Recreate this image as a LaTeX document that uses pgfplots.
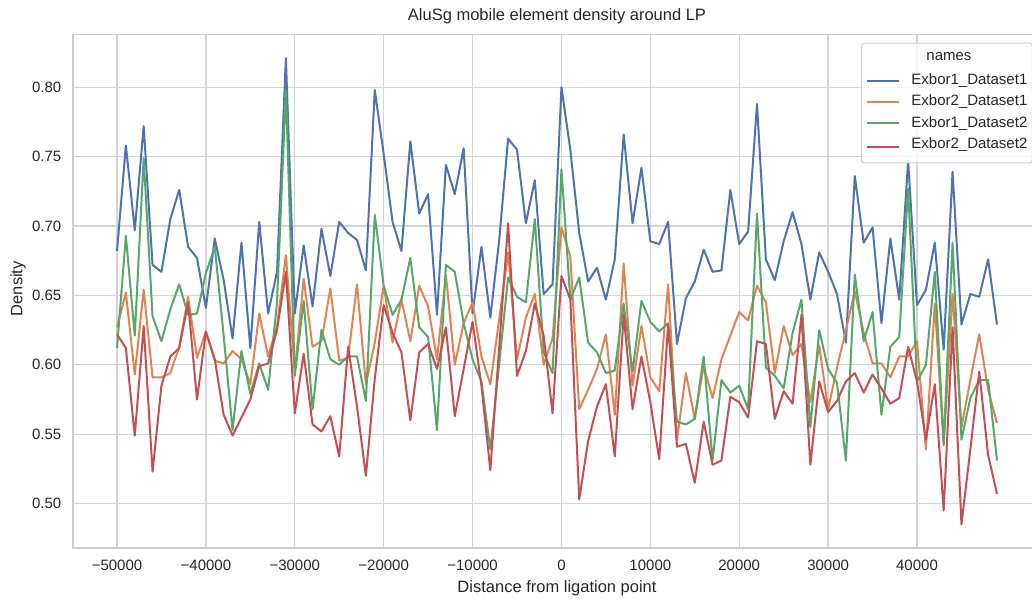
\documentclass[border=0pt]{standalone}
\usepackage{pgfplots}
\usepackage{pgfplotstable}
\pgfplotsset{compat=1.18}
\usepackage{fontspec}
\setmainfont{Liberation Sans}

\definecolor{sbblue}{HTML}{4C72B0}
\definecolor{sborange}{HTML}{DD8452}
\definecolor{sbgreen}{HTML}{55A868}
\definecolor{sbred}{HTML}{C44E52}
\definecolor{gridgray}{HTML}{CCCCCC}
\definecolor{txt}{HTML}{262626}

% density per 1 kb window; columns: position, Exbor1_D1, Exbor2_D1, Exbor1_D2, Exbor2_D2
\pgfplotstableread{
x b o g r
-50000 0.682 0.627 0.612 0.622
-49000 0.758 0.652 0.693 0.612
-48000 0.697 0.593 0.621 0.549
-47000 0.772 0.654 0.749 0.628
-46000 0.672 0.591 0.635 0.523
-45000 0.667 0.591 0.617 0.585
-44000 0.705 0.594 0.640 0.606
-43000 0.726 0.613 0.658 0.612
-42000 0.685 0.649 0.636 0.645
-41000 0.677 0.605 0.637 0.575
-40000 0.641 0.624 0.666 0.624
-39000 0.691 0.603 0.685 0.604
-38000 0.661 0.601 0.621 0.564
-37000 0.619 0.610 0.553 0.549
-36000 0.688 0.604 0.610 0.562
-35000 0.612 0.586 0.579 0.575
-34000 0.703 0.637 0.601 0.599
-33000 0.637 0.606 0.582 0.601
-32000 0.667 0.628 0.645 0.625
-31000 0.821 0.679 0.798 0.667
-30000 0.637 0.595 0.592 0.565
-29000 0.686 0.662 0.646 0.608
-28000 0.642 0.613 0.568 0.557
-27000 0.698 0.617 0.625 0.552
-26000 0.664 0.655 0.604 0.563
-25000 0.703 0.603 0.600 0.534
-24000 0.695 0.605 0.606 0.613
-23000 0.690 0.658 0.606 0.570
-22000 0.668 0.586 0.574 0.520
-21000 0.798 0.616 0.708 0.590
-20000 0.752 0.657 0.657 0.643
-19000 0.703 0.616 0.636 0.623
-18000 0.682 0.647 0.647 0.609
-17000 0.761 0.617 0.677 0.560
-16000 0.709 0.657 0.627 0.609
-15000 0.723 0.642 0.620 0.615
-14000 0.636 0.604 0.553 0.597
-13000 0.744 0.665 0.672 0.627
-12000 0.723 0.600 0.667 0.563
-11000 0.756 0.630 0.630 0.597
-10000 0.637 0.645 0.604 0.631
-9000 0.685 0.606 0.588 0.585
-8000 0.634 0.586 0.539 0.524
-7000 0.690 0.633 0.601 0.613
-6000 0.763 0.681 0.663 0.702
-5000 0.755 0.604 0.649 0.592
-4000 0.702 0.634 0.645 0.610
-3000 0.733 0.651 0.705 0.644
-2000 0.651 0.600 0.609 0.621
-1000 0.658 0.619 0.594 0.565
0 0.800 0.699 0.741 0.664
1000 0.755 0.678 0.647 0.647
2000 0.695 0.568 0.663 0.503
3000 0.660 0.582 0.616 0.545
4000 0.670 0.597 0.609 0.570
5000 0.647 0.622 0.594 0.586
6000 0.676 0.564 0.596 0.534
7000 0.766 0.673 0.644 0.636
8000 0.702 0.585 0.595 0.568
9000 0.742 0.628 0.646 0.606
10000 0.689 0.591 0.631 0.573
11000 0.687 0.581 0.624 0.532
12000 0.703 0.658 0.630 0.629
13000 0.615 0.546 0.559 0.541
14000 0.648 0.594 0.557 0.543
15000 0.660 0.561 0.561 0.515
16000 0.683 0.599 0.606 0.559
17000 0.667 0.576 0.531 0.528
18000 0.668 0.604 0.589 0.531
19000 0.726 0.621 0.580 0.577
20000 0.687 0.638 0.585 0.573
21000 0.696 0.632 0.568 0.562
22000 0.788 0.657 0.709 0.617
23000 0.676 0.645 0.598 0.615
24000 0.661 0.594 0.592 0.561
25000 0.689 0.628 0.583 0.581
26000 0.710 0.607 0.623 0.572
27000 0.687 0.615 0.647 0.636
28000 0.647 0.573 0.555 0.528
29000 0.681 0.614 0.625 0.588
30000 0.667 0.568 0.597 0.566
31000 0.651 0.598 0.587 0.574
32000 0.616 0.625 0.531 0.588
33000 0.736 0.653 0.665 0.594
34000 0.688 0.623 0.617 0.580
35000 0.699 0.601 0.638 0.593
36000 0.630 0.601 0.564 0.583
37000 0.691 0.591 0.613 0.572
38000 0.647 0.606 0.620 0.576
39000 0.747 0.606 0.727 0.613
40000 0.643 0.617 0.588 0.588
41000 0.654 0.539 0.600 0.546
42000 0.688 0.644 0.667 0.586
43000 0.611 0.542 0.543 0.495
44000 0.739 0.651 0.688 0.627
45000 0.629 0.555 0.546 0.485
46000 0.651 0.589 0.576 0.539
47000 0.649 0.622 0.589 0.595
48000 0.676 0.582 0.589 0.535
49000 0.629 0.558 0.531 0.507
}\density

\begin{document}
\begin{tikzpicture}
\begin{axis}[
  at={(0pt,0pt)}, anchor=south west,
  scale only axis, width=968pt, height=513.5pt,
  xmin=-54950, xmax=53950, ymin=0.468, ymax=0.838,
  scaled ticks=false,
  axis line style={gridgray, line width=1.7pt},
  grid=major, major grid style={color=gridgray!85!white, line width=1.3pt},
  major tick length=0pt,
  xtick={-50000,-40000,-30000,-20000,-10000,0,10000,20000,30000,40000},
  xticklabels={−50000,−40000,−30000,−20000,−10000,0,10000,20000,30000,40000},
  ytick={0.50,0.55,0.60,0.65,0.70,0.75,0.80},
  yticklabels={0.50,0.55,0.60,0.65,0.70,0.75,0.80},
  ticklabel style={font=\fontsize{15}{18}\selectfont, text=txt, inner sep=0pt},
  xticklabel style={anchor=north, yshift=-12pt},
  yticklabel style={anchor=east, xshift=-11.5pt},
  title={AluSg mobile element density around LP},
  title style={font=\fontsize{16.5}{20}\selectfont, text=txt, inner sep=0pt,
    at={(axis description cs:0.5,1)}, anchor=base, yshift=7.5pt},
  xlabel={Distance from ligation point},
  xlabel style={font=\fontsize{16.5}{20}\selectfont, text=txt, inner sep=0pt,
    at={(axis description cs:0.5,0)}, anchor=base, yshift=-44pt},
  ylabel={Density},
  ylabel style={font=\fontsize{16.5}{20}\selectfont, text=txt, inner sep=0pt,
    at={(axis description cs:0,0.505)}, anchor=center, rotate=0, yshift=55pt},
  legend image code/.code={\draw[#1] (0pt,0pt) -- (32pt,0pt);},
  legend cell align=left,
  legend style={
    at={(axis description cs:0.814,0.984)}, anchor=north west,
    draw=gridgray, line width=1pt, fill=white, fill opacity=0.8, text opacity=1,
    rounded corners=3pt,
    font=\fontsize{15}{18}\selectfont, text=txt,
    nodes={inner sep=0pt, text height=11pt, text depth=3.5pt},
    column sep=11pt, row sep=6.8pt, inner xsep=5pt, inner ysep=6pt,
  },
  every axis plot/.append style={line width=2pt, line join=round},
]
\addlegendimage{empty legend}
\addlegendentry[text depth=6.5pt]{\hspace*{15pt}names}
\addplot[sbblue, no markers] table[x=x, y=b] {\density};
\addlegendentry{Exbor1\_Dataset1}
\addplot[sborange, no markers] table[x=x, y=o] {\density};
\addlegendentry{Exbor2\_Dataset1}
\addplot[sbgreen, no markers] table[x=x, y=g] {\density};
\addlegendentry{Exbor1\_Dataset2}
\addplot[sbred, no markers] table[x=x, y=r] {\density};
\addlegendentry[text depth=8.5pt]{Exbor2\_Dataset2}
\end{axis}
\pgfresetboundingbox
\path[use as bounding box] (-73pt,-50pt) rectangle (959pt,548pt);
\end{tikzpicture}
\end{document}
